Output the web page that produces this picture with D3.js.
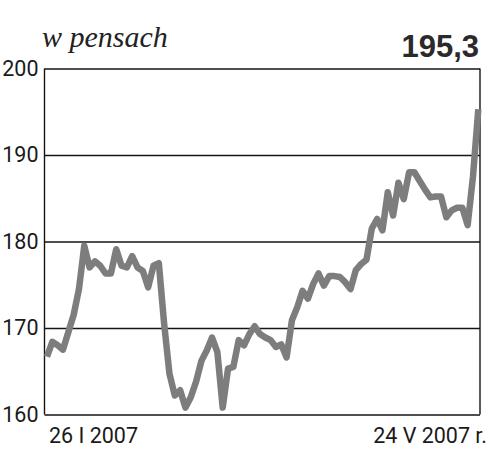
<!DOCTYPE html>
<html>
<head>
<meta charset="utf-8">
<script src="https://cdn.jsdelivr.net/npm/d3@7"></script>
<style>
  html, body { margin: 0; padding: 0; background: #fff; }
  svg { display: block; }
</style>
</head>
<body>
<div id="chart"></div>
<script>
// Price in pence, daily from 26 I 2007 to 24 V 2007
const values = [
  166.7, 168.4, 168.0, 167.5, 169.5, 171.5, 174.5, 179.5, 177.0, 177.7,
  177.2, 176.3, 176.3, 179.1, 177.2, 177.0, 178.3, 177.0, 176.6, 174.7,
  177.2, 177.5, 170.5, 164.7, 162.2, 162.8, 160.8, 162.0, 163.8, 166.2,
  167.4, 168.9, 167.2, 160.8, 165.3, 165.5, 168.6, 168.0, 169.3, 170.2,
  169.3, 168.9, 168.6, 167.8, 168.1, 166.6, 170.9, 172.4, 174.3, 173.4,
  175.1, 176.3, 174.9, 176.0, 176.0, 175.9, 175.3, 174.5, 176.7, 177.4,
  177.9, 181.5, 182.6, 181.3, 185.7, 183.0, 186.8, 184.9, 188.0, 188.0,
  187.0, 186.0, 185.1, 185.2, 185.2, 182.8, 183.6, 183.9, 183.9, 181.9,
  187.5, 195.3
];
const yTicks = [160, 170, 180, 190, 200];
const xLabels = ["26 I 2007", "24 V 2007 r."];
const unitLabel = "w pensach";
const lastValueLabel = "195,3";

(function () {
const W = 500, H = 464;
const mLeft = 44.5, mRight = 480, mTop = 68.5, mBottom = 414.5;

const svg = d3.select("#chart").append("svg")
  .attr("width", W).attr("height", H);

const x = d3.scaleLinear().domain([0, values.length - 1]).range([47, 478.3]);
const y = d3.scaleLinear().domain([160, 200]).range([mBottom, mTop]);

// gridlines + tick labels
const yAxis = d3.axisLeft(y).tickValues(yTicks).tickSize(-(mRight - mLeft)).tickPadding(6)
  .tickFormat(d3.format("d"));
const gy = svg.append("g").attr("transform", `translate(${mLeft},0)`).call(yAxis);
gy.select(".domain").remove();
gy.selectAll(".tick line").attr("stroke", "#151515").attr("stroke-width", 1.4);
gy.selectAll(".tick text")
  .attr("x", -6)
  .attr("fill", "#1a1a1a")
  .style("font-family", "Roboto, 'Liberation Sans', sans-serif")
  .style("font-size", "21.5px");

// frame sides
svg.append("line").attr("x1", mLeft).attr("x2", mLeft).attr("y1", mTop).attr("y2", mBottom)
  .attr("stroke", "#151515").attr("stroke-width", 1.4);
svg.append("line").attr("x1", mRight).attr("x2", mRight).attr("y1", mTop).attr("y2", mBottom)
  .attr("stroke", "#151515").attr("stroke-width", 1.4);

// line
const line = d3.line().x((d, i) => x(i)).y(d => y(d));
svg.append("path").datum(values)
  .attr("d", line)
  .attr("fill", "none")
  .attr("stroke", "#7d7d7d")
  .attr("stroke-width", 6.5)
  .attr("stroke-linejoin", "round")
  .attr("stroke-linecap", "butt");

// titles
svg.append("text").attr("x", 42).attr("y", 47)
  .text(unitLabel)
  .style("font-family", "'Liberation Serif', 'DejaVu Serif', serif")
  .style("font-style", "italic")
  .style("font-size", "30px")
  .attr("fill", "#222");

svg.append("text").attr("x", 479).attr("y", 57).attr("text-anchor", "end")
  .text(lastValueLabel)
  .style("font-family", "'Liberation Sans', Arial, sans-serif")
  .style("font-weight", "bold")
  .style("font-size", "31px")
  .attr("fill", "#2a2a2a");

// date labels
svg.append("text").attr("x", 49).attr("y", 443)
  .text(xLabels[0])
  .style("font-family", "Roboto, 'Liberation Sans', sans-serif")
  .style("font-size", "21.5px")
  .attr("fill", "#1a1a1a");
svg.append("text").attr("x", 487).attr("y", 443).attr("text-anchor", "end")
  .text(xLabels[1])
  .style("font-family", "Roboto, 'Liberation Sans', sans-serif")
  .style("font-size", "21.5px")
  .attr("fill", "#1a1a1a");
})();
</script>
</body>
</html>
